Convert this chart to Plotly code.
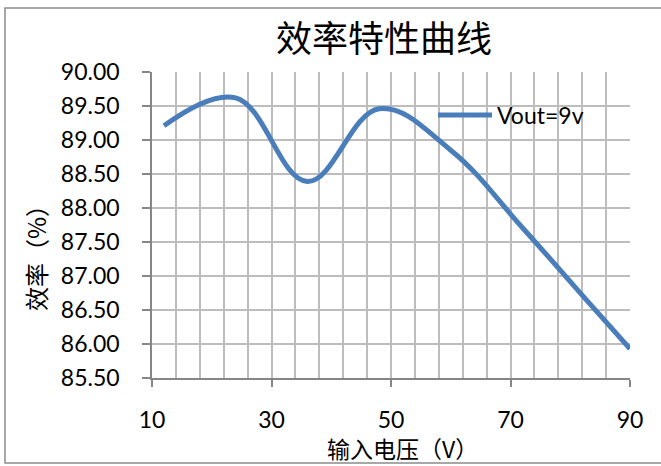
import plotly.graph_objects as go

# Data
input_voltage = [12, 24, 36, 48, 60, 72, 84, 90]
efficiency = [89.21, 89.62, 88.39, 89.46, 88.85, 87.71, 86.52, 85.93]
series_name = "Vout=9v"
x_ticks = [10, 30, 50, 70, 90]

W, H = 661, 466
L, R, T, B = 152, 31, 72, 88
pw, ph = W - L - R, H - T - B

def px(xp):
    return (xp - L) / pw

def py(yp):
    return (H - B - yp) / ph

line_color = "#4a7ebb"
fig = go.Figure()
fig.add_trace(go.Scatter(
    x=input_voltage, y=efficiency, mode="lines", name=series_name,
    line=dict(color=line_color, width=5, shape="spline", smoothing=1.1),
    showlegend=False,
))

grid = "#bdbdbd"
axis_col = "#868686"
fig.update_layout(
    width=W, height=H,
    margin=dict(l=L, r=R, t=T, b=B),
    paper_bgcolor="white", plot_bgcolor="white",
    font=dict(family="Lato, Open Sans, sans-serif", color="black", size=23),
    xaxis=dict(
        range=[10, 90], tickmode="array", tickvals=x_ticks,
        ticktext=[str(v) for v in x_ticks],
        showgrid=True, gridcolor=grid, gridwidth=1.5,
        showline=True, linecolor=axis_col, linewidth=1.5,
        ticks="outside", ticklen=7, tickcolor=axis_col, tickwidth=1.5,
        ticklabelstandoff=14,
        minor=dict(tick0=10, dtick=4, showgrid=True, gridcolor=grid, gridwidth=1.5, ticks=""),
        zeroline=False, fixedrange=True,
    ),
    yaxis=dict(
        range=[85.5, 90.0], dtick=0.5, tick0=85.5, tickformat=".2f",
        showgrid=True, gridcolor=grid, gridwidth=1.5,
        showline=True, linecolor=axis_col, linewidth=1.5,
        ticks="outside", ticklen=8, tickcolor=axis_col, tickwidth=1.5,
        ticklabelstandoff=18,
        zeroline=False, fixedrange=True,
    ),
    shapes=[
        dict(type="rect", xref="paper", yref="paper",
             x0=px(5), x1=px(668), y0=py(463), y1=py(8),
             line=dict(color="#8c8c8c", width=1.5), layer="below"),
        # legend sample line
        dict(type="line", xref="paper", yref="paper",
             x0=px(438), x1=px(492), y0=py(115), y1=py(115),
             line=dict(color=line_color, width=5)),
    ],
    annotations=[
        dict(text=series_name, xref="paper", yref="paper", x=px(495), y=py(115),
             showarrow=False, xanchor="left", yanchor="middle",
             font=dict(size=23, color="black")),
        dict(text="效率特性曲线", xref="paper", yref="paper", x=px(384), y=py(36),
             showarrow=False, xanchor="center", yanchor="middle",
             font=dict(family="Noto Sans CJK SC", size=36, color="black")),
        dict(text="输入电压（V）", xref="paper", yref="paper", x=px(402), y=py(448),
             showarrow=False, xanchor="center", yanchor="middle",
             font=dict(family="Noto Sans CJK SC", size=23, color="black")),
        dict(text="效率（%）", xref="paper", yref="paper", x=px(35), y=py(252),
             showarrow=False, xanchor="center", yanchor="middle", textangle=-90,
             font=dict(family="Noto Sans CJK SC", size=24, color="black")),
    ],
)

fig.write_html("out.html", config={"displayModeBar": False})
with open("out.html", "r", encoding="utf-8") as f:
    html = f.read()
html = html.replace("<head>", "<head><style>html,body{margin:0;padding:0;overflow:hidden;}</style>", 1)
with open("out.html", "w", encoding="utf-8") as f:
    f.write(html)
